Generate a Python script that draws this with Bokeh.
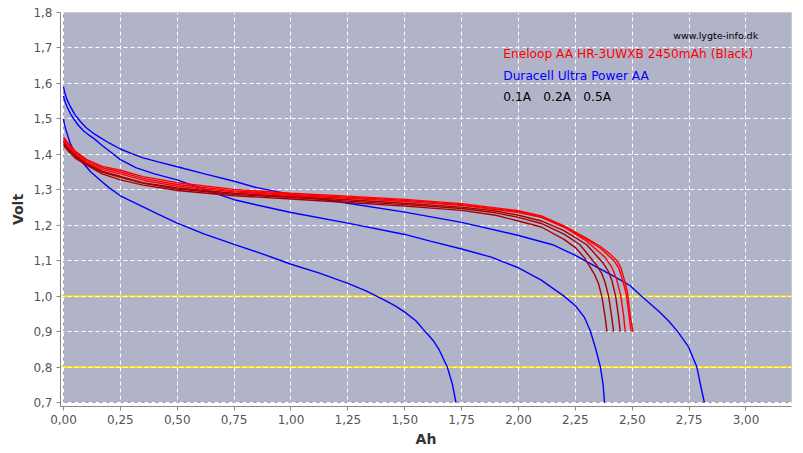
from bokeh.plotting import figure
from bokeh.models import (Range1d, FixedTicker, CustomJSTickFormatter, Span,
                          BoxAnnotation, Label)
from bokeh.embed import file_html
from bokeh.resources import INLINE

# ---------------- data ----------------
x_ticks = [0.0, 0.25, 0.5, 0.75, 1.0, 1.25, 1.5, 1.75, 2.0, 2.25, 2.5, 2.75, 3.0]
y_ticks = [0.7, 0.8, 0.9, 1.0, 1.1, 1.2, 1.3, 1.4, 1.5, 1.6, 1.7, 1.8]
yellow_levels = [1.0, 0.8]

# Duracell Ultra Power AA (blue)
dur_01_ah = [0.0, 0.005, 0.015, 0.03, 0.05, 0.075, 0.10, 0.13, 0.16, 0.20, 0.25, 0.30, 0.35, 0.42,
             0.50, 0.62, 0.75, 0.85, 1.00, 1.25, 1.50, 1.75, 2.00, 2.15, 2.25, 2.35, 2.42, 2.49,
             2.535, 2.58, 2.62, 2.66, 2.70, 2.748, 2.784, 2.80, 2.817]
dur_01_v = [1.59, 1.575, 1.555, 1.535, 1.512, 1.492, 1.475, 1.46, 1.448, 1.432, 1.415, 1.402, 1.39,
            1.378, 1.365, 1.345, 1.324, 1.306, 1.287, 1.262, 1.237, 1.208, 1.171, 1.145, 1.115, 1.080,
            1.056, 1.030, 1.003, 0.978, 0.955, 0.93, 0.90, 0.856, 0.80, 0.75, 0.70]

dur_02_ah = [0.0, 0.005, 0.015, 0.03, 0.045, 0.065, 0.09, 0.11, 0.133, 0.17, 0.21, 0.25, 0.32, 0.40,
             0.50, 0.62, 0.75, 0.85, 1.00, 1.25, 1.50, 1.612, 1.75, 1.88, 2.00, 2.10, 2.20, 2.25,
             2.29, 2.315, 2.34, 2.36, 2.372, 2.378]
dur_02_v = [1.565, 1.552, 1.535, 1.515, 1.50, 1.482, 1.465, 1.455, 1.445, 1.425, 1.405, 1.385, 1.362,
            1.345, 1.328, 1.300, 1.272, 1.257, 1.236, 1.206, 1.174, 1.155, 1.133, 1.110, 1.080, 1.045,
            1.000, 0.973, 0.94, 0.903, 0.85, 0.80, 0.75, 0.70]

dur_05_ah = [0.0, 0.004, 0.01, 0.02, 0.03, 0.05, 0.075, 0.10, 0.12, 0.163, 0.20, 0.25, 0.30, 0.35,
             0.42, 0.50, 0.62, 0.75, 0.88, 1.00, 1.125, 1.25, 1.33, 1.407, 1.46, 1.50, 1.55, 1.59,
             1.625, 1.65, 1.687, 1.71, 1.725]
dur_05_v = [1.50, 1.485, 1.47, 1.45, 1.43, 1.405, 1.383, 1.365, 1.35, 1.326, 1.306, 1.283, 1.267, 1.252,
            1.230, 1.206, 1.175, 1.146, 1.118, 1.09, 1.065, 1.036, 1.015, 0.99, 0.972, 0.955, 0.93, 0.90,
            0.875, 0.85, 0.80, 0.75, 0.70]

# Eneloop AA HR-3UWXB 2450mAh (red / dark red)
ene_1_ah = [0, .02, .05, .1, .17, .25, .35, .5, .75, 1.0, 1.25, 1.5, 1.75, 2.0, 2.1, 2.2, 2.3, 2.36,
            2.40, 2.433, 2.45, 2.462, 2.472, 2.48, 2.491, 2.503]
ene_1_v = [1.448, 1.432, 1.41, 1.386, 1.366, 1.355, 1.337, 1.32, 1.301, 1.29, 1.282, 1.273, 1.261, 1.241,
           1.226, 1.198, 1.163, 1.14, 1.12, 1.10, 1.08, 1.053, 1.03, 1.006, 0.945, 0.90]

ene_2_ah = [0, .02, .05, .1, .17, .25, .35, .5, .75, 1.0, 1.25, 1.5, 1.75, 2.0, 2.1, 2.2, 2.3, 2.36,
            2.42, 2.44, 2.455, 2.466, 2.475, 2.486, 2.495]
ene_2_v = [1.445, 1.428, 1.407, 1.383, 1.362, 1.35, 1.332, 1.315, 1.297, 1.287, 1.279, 1.27, 1.258, 1.238,
           1.223, 1.195, 1.16, 1.135, 1.10, 1.08, 1.05, 1.025, 1.0, 0.945, 0.90]

ene_3_ah = [0, .02, .05, .1, .17, .25, .35, .5, .75, 1.0, 1.25, 1.5, 1.75, 2.0, 2.1, 2.2, 2.3, 2.38,
            2.41, 2.43, 2.45, 2.462, 2.469]
ene_3_v = [1.44, 1.422, 1.402, 1.378, 1.357, 1.345, 1.327, 1.31, 1.294, 1.284, 1.276, 1.267, 1.256, 1.236,
           1.222, 1.195, 1.155, 1.11, 1.082, 1.05, 1.0, 0.945, 0.90]

ene_4_ah = [0, .02, .05, .1, .17, .25, .35, .5, .75, 1.0, 1.25, 1.5, 1.75, 1.9, 2.0, 2.1, 2.2, 2.3,
            2.37, 2.395, 2.41, 2.427, 2.44, 2.447]
ene_4_v = [1.435, 1.418, 1.398, 1.375, 1.352, 1.338, 1.32, 1.305, 1.29, 1.281, 1.272, 1.262, 1.251, 1.24,
           1.228, 1.212, 1.185, 1.145, 1.095, 1.07, 1.045, 1.0, 0.94, 0.90]

ene_5_ah = [0, .02, .05, .1, .17, .25, .35, .5, .75, 1.0, 1.25, 1.5, 1.75, 1.9, 2.0, 2.1, 2.2, 2.27,
            2.34, 2.365, 2.38, 2.396, 2.41, 2.418]
ene_5_v = [1.43, 1.415, 1.395, 1.372, 1.35, 1.335, 1.318, 1.302, 1.287, 1.278, 1.268, 1.258, 1.247, 1.235,
           1.222, 1.205, 1.175, 1.145, 1.09, 1.065, 1.04, 1.0, 0.94, 0.90]

ene_6_ah = [0, .02, .05, .1, .17, .25, .35, .5, .75, 1.0, 1.25, 1.5, 1.75, 1.9, 2.0, 2.1, 2.2, 2.25,
            2.29, 2.315, 2.335, 2.352, 2.367, 2.381, 2.389]
ene_6_v = [1.425, 1.41, 1.39, 1.37, 1.345, 1.328, 1.313, 1.298, 1.283, 1.274, 1.264, 1.254, 1.242, 1.228,
           1.212, 1.195, 1.16, 1.137, 1.108, 1.082, 1.06, 1.035, 0.997, 0.94, 0.90]

title_ene = "Eneloop AA HR-3UWXB 2450mAh (Black)"
title_dur = "Duracell Ultra Power AA"
currents = ["0.1A", "0.2A", "0.5A"]
site = "www.lygte-info.dk"

# ---------------- figure ----------------
X0, X1 = 0.0, 3.2
Y0, Y1 = 0.7, 1.8
FONT = "DejaVu Sans"

p = figure(width=797, height=450, output_backend="svg", toolbar_location=None,
           x_range=Range1d(X0 - 3 / 227.6, X1), y_range=Range1d(Y0 - 4 / 354.5, Y1),
           min_border_left=60, min_border_right=6, min_border_top=12, min_border_bottom=44,
           background_fill_color="white", border_fill_color="white")
p.outline_line_color = None

# plotting area background with black outline
bg = BoxAnnotation(left=X0, right=X1, bottom=Y0, top=Y1, fill_color="#b1b3c8", fill_alpha=1.0,
                   line_color="black", line_width=1, level="image")
p.add_layout(bg)

for lv in yellow_levels:
    p.add_layout(Span(location=lv, dimension="width", line_color="#ffdf00", line_width=2, level="image"))

# grid
p.xgrid.ticker = FixedTicker(ticks=[t for t in x_ticks])
p.ygrid.ticker = FixedTicker(ticks=[t for t in y_ticks if t < 1.75])
for g in (p.xgrid, p.ygrid):
    g.grid_line_color = "white"
    g.grid_line_dash = "4 3"
    g.grid_line_width = 1

# axes
p.xaxis.ticker = FixedTicker(ticks=x_ticks)
p.yaxis.ticker = FixedTicker(ticks=y_ticks)
p.xaxis.formatter = CustomJSTickFormatter(code="return tick.toFixed(2).replace('.', ',');")
p.yaxis.formatter = CustomJSTickFormatter(code="return tick.toFixed(1).replace('.', ',');")
p.xaxis.axis_label = "Ah"
p.yaxis.axis_label = "Volt"
for ax in (p.xaxis, p.yaxis):
    ax.axis_line_color = "#888888"
    ax.major_tick_line_color = "#888888"
    ax.major_tick_out = 4
    ax.major_tick_in = 0
    ax.minor_tick_line_color = None
    ax.major_label_text_font = FONT
    ax.major_label_text_font_size = "12px"
    ax.major_label_text_color = "#555555"
    ax.major_label_standoff = 4
    ax.axis_label_text_font = FONT
    ax.axis_label_text_font_size = "14px"
    ax.axis_label_text_font_style = "bold"
    ax.axis_label_text_color = "#333333"
    ax.axis_label_standoff = 4

# curves
blue = "#0000ff"
red = "#ff0000"
dark = "#a80000"
for xs, ys in ((dur_01_ah, dur_01_v), (dur_02_ah, dur_02_v), (dur_05_ah, dur_05_v)):
    p.line(xs, ys, line_color=blue, line_width=1.4)
for xs, ys, c in ((ene_6_ah, ene_6_v, dark), (ene_5_ah, ene_5_v, dark), (ene_4_ah, ene_4_v, dark),
                  (ene_3_ah, ene_3_v, red), (ene_2_ah, ene_2_v, red), (ene_1_ah, ene_1_v, red)):
    p.line(xs, ys, line_color=c, line_width=1.4)

# texts
p.add_layout(Label(x=2.68, y=1.735, text=site, text_font=FONT, text_font_size="9.5px",
                   text_color="black", text_baseline="middle"))
p.add_layout(Label(x=1.933, y=1.682, text=title_ene, text_font=FONT, text_font_size="12.2px",
                   text_color="#ff0000", text_baseline="middle"))
p.add_layout(Label(x=1.933, y=1.622, text=title_dur, text_font=FONT, text_font_size="12.2px",
                   text_color="#0000ff", text_baseline="middle"))
for i, c in enumerate(currents):
    p.add_layout(Label(x=1.933, y=1.563, x_offset=40 * i, text=c, text_font=FONT,
                       text_font_size="12.2px", text_color="black", text_baseline="middle"))

open("out.html", "w").write(file_html(p, INLINE))
